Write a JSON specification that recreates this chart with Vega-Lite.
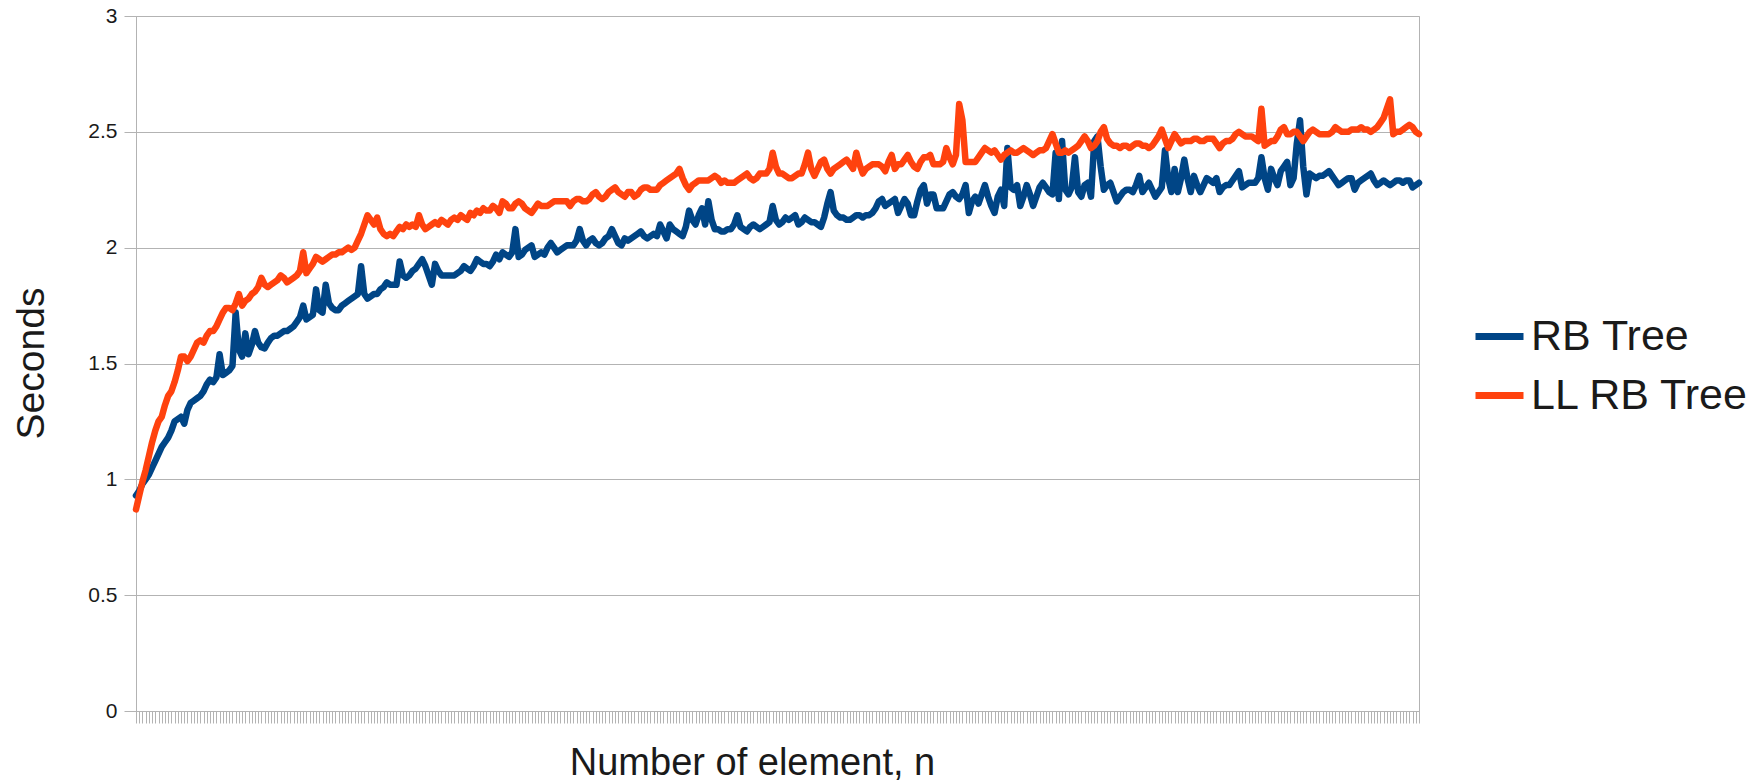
{
"$schema":"https://vega.github.io/schema/vega-lite/v6.json",
"width":1283,"height":695,
"autosize":{"type":"none"},
"padding":{"left":136,"top":16,"right":342,"bottom":72},
"background":"white",
"config":{"font":"Liberation Sans","view":{"stroke":"#b3b3b3","strokeWidth":1}},
"data":{"values":[
{"n":0,"RB Tree":0.93,"LL RB Tree":0.87},{"n":1,"RB Tree":0.95,"LL RB Tree":0.93},{"n":2,"RB Tree":0.98,"LL RB Tree":0.99},{"n":3,"RB Tree":1.00,"LL RB Tree":1.04},{"n":4,"RB Tree":1.02,"LL RB Tree":1.10},{"n":5,"RB Tree":1.05,"LL RB Tree":1.16},{"n":6,"RB Tree":1.08,"LL RB Tree":1.21},{"n":7,"RB Tree":1.11,"LL RB Tree":1.25},{"n":8,"RB Tree":1.14,"LL RB Tree":1.27},{"n":9,"RB Tree":1.16,"LL RB Tree":1.32},
{"n":10,"RB Tree":1.18,"LL RB Tree":1.36},{"n":11,"RB Tree":1.21,"LL RB Tree":1.38},{"n":12,"RB Tree":1.25,"LL RB Tree":1.42},{"n":13,"RB Tree":1.26,"LL RB Tree":1.47},{"n":14,"RB Tree":1.27,"LL RB Tree":1.53},{"n":15,"RB Tree":1.24,"LL RB Tree":1.53},{"n":16,"RB Tree":1.30,"LL RB Tree":1.51},{"n":17,"RB Tree":1.33,"LL RB Tree":1.53},{"n":18,"RB Tree":1.34,"LL RB Tree":1.56},{"n":19,"RB Tree":1.35,"LL RB Tree":1.59},
{"n":20,"RB Tree":1.36,"LL RB Tree":1.60},{"n":21,"RB Tree":1.38,"LL RB Tree":1.59},{"n":22,"RB Tree":1.41,"LL RB Tree":1.62},{"n":23,"RB Tree":1.43,"LL RB Tree":1.64},{"n":24,"RB Tree":1.42,"LL RB Tree":1.64},{"n":25,"RB Tree":1.44,"LL RB Tree":1.66},{"n":26,"RB Tree":1.54,"LL RB Tree":1.69},{"n":27,"RB Tree":1.45,"LL RB Tree":1.72},{"n":28,"RB Tree":1.46,"LL RB Tree":1.74},{"n":29,"RB Tree":1.47,"LL RB Tree":1.74},
{"n":30,"RB Tree":1.49,"LL RB Tree":1.73},{"n":31,"RB Tree":1.72,"LL RB Tree":1.76},{"n":32,"RB Tree":1.56,"LL RB Tree":1.80},{"n":33,"RB Tree":1.53,"LL RB Tree":1.75},{"n":34,"RB Tree":1.63,"LL RB Tree":1.77},{"n":35,"RB Tree":1.54,"LL RB Tree":1.78},{"n":36,"RB Tree":1.58,"LL RB Tree":1.80},{"n":37,"RB Tree":1.64,"LL RB Tree":1.81},{"n":38,"RB Tree":1.59,"LL RB Tree":1.83},{"n":39,"RB Tree":1.57,"LL RB Tree":1.87},
{"n":40,"RB Tree":1.565,"LL RB Tree":1.84},{"n":41,"RB Tree":1.59,"LL RB Tree":1.83},{"n":42,"RB Tree":1.61,"LL RB Tree":1.84},{"n":43,"RB Tree":1.62,"LL RB Tree":1.85},{"n":44,"RB Tree":1.62,"LL RB Tree":1.86},{"n":45,"RB Tree":1.63,"LL RB Tree":1.88},{"n":46,"RB Tree":1.64,"LL RB Tree":1.87},{"n":47,"RB Tree":1.64,"LL RB Tree":1.85},{"n":48,"RB Tree":1.65,"LL RB Tree":1.86},{"n":49,"RB Tree":1.66,"LL RB Tree":1.87},
{"n":50,"RB Tree":1.68,"LL RB Tree":1.88},{"n":51,"RB Tree":1.70,"LL RB Tree":1.90},{"n":52,"RB Tree":1.75,"LL RB Tree":1.98},{"n":53,"RB Tree":1.69,"LL RB Tree":1.89},{"n":54,"RB Tree":1.70,"LL RB Tree":1.91},{"n":55,"RB Tree":1.71,"LL RB Tree":1.93},{"n":56,"RB Tree":1.82,"LL RB Tree":1.96},{"n":57,"RB Tree":1.73,"LL RB Tree":1.95},{"n":58,"RB Tree":1.72,"LL RB Tree":1.94},{"n":59,"RB Tree":1.84,"LL RB Tree":1.95},
{"n":60,"RB Tree":1.76,"LL RB Tree":1.96},{"n":61,"RB Tree":1.74,"LL RB Tree":1.97},{"n":62,"RB Tree":1.73,"LL RB Tree":1.97},{"n":63,"RB Tree":1.73,"LL RB Tree":1.98},{"n":64,"RB Tree":1.75,"LL RB Tree":1.98},{"n":65,"RB Tree":1.76,"LL RB Tree":1.99},{"n":66,"RB Tree":1.77,"LL RB Tree":2.00},{"n":67,"RB Tree":1.78,"LL RB Tree":1.99},{"n":68,"RB Tree":1.79,"LL RB Tree":2.00},{"n":69,"RB Tree":1.80,"LL RB Tree":2.03},
{"n":70,"RB Tree":1.92,"LL RB Tree":2.06},{"n":71,"RB Tree":1.80,"LL RB Tree":2.10},{"n":72,"RB Tree":1.78,"LL RB Tree":2.14},{"n":73,"RB Tree":1.79,"LL RB Tree":2.12},{"n":74,"RB Tree":1.80,"LL RB Tree":2.10},{"n":75,"RB Tree":1.80,"LL RB Tree":2.13},{"n":76,"RB Tree":1.82,"LL RB Tree":2.08},{"n":77,"RB Tree":1.83,"LL RB Tree":2.06},{"n":78,"RB Tree":1.85,"LL RB Tree":2.05},{"n":79,"RB Tree":1.84,"LL RB Tree":2.06},
{"n":80,"RB Tree":1.84,"LL RB Tree":2.05},{"n":81,"RB Tree":1.84,"LL RB Tree":2.07},{"n":82,"RB Tree":1.94,"LL RB Tree":2.09},{"n":83,"RB Tree":1.88,"LL RB Tree":2.08},{"n":84,"RB Tree":1.87,"LL RB Tree":2.10},{"n":85,"RB Tree":1.88,"LL RB Tree":2.09},{"n":86,"RB Tree":1.90,"LL RB Tree":2.10},{"n":87,"RB Tree":1.91,"LL RB Tree":2.09},{"n":88,"RB Tree":1.93,"LL RB Tree":2.14},{"n":89,"RB Tree":1.95,"LL RB Tree":2.10},
{"n":90,"RB Tree":1.92,"LL RB Tree":2.08},{"n":91,"RB Tree":1.88,"LL RB Tree":2.09},{"n":92,"RB Tree":1.84,"LL RB Tree":2.10},{"n":93,"RB Tree":1.93,"LL RB Tree":2.11},{"n":94,"RB Tree":1.90,"LL RB Tree":2.10},{"n":95,"RB Tree":1.88,"LL RB Tree":2.12},{"n":96,"RB Tree":1.88,"LL RB Tree":2.11},{"n":97,"RB Tree":1.88,"LL RB Tree":2.10},{"n":98,"RB Tree":1.88,"LL RB Tree":2.12},{"n":99,"RB Tree":1.88,"LL RB Tree":2.13},
{"n":100,"RB Tree":1.89,"LL RB Tree":2.12},{"n":101,"RB Tree":1.90,"LL RB Tree":2.14},{"n":102,"RB Tree":1.92,"LL RB Tree":2.13},{"n":103,"RB Tree":1.91,"LL RB Tree":2.12},{"n":104,"RB Tree":1.90,"LL RB Tree":2.15},{"n":105,"RB Tree":1.92,"LL RB Tree":2.14},{"n":106,"RB Tree":1.95,"LL RB Tree":2.16},{"n":107,"RB Tree":1.94,"LL RB Tree":2.15},{"n":108,"RB Tree":1.93,"LL RB Tree":2.17},{"n":109,"RB Tree":1.93,"LL RB Tree":2.16},
{"n":110,"RB Tree":1.92,"LL RB Tree":2.16},{"n":111,"RB Tree":1.94,"LL RB Tree":2.18},{"n":112,"RB Tree":1.97,"LL RB Tree":2.17},{"n":113,"RB Tree":1.95,"LL RB Tree":2.15},{"n":114,"RB Tree":1.98,"LL RB Tree":2.20},{"n":115,"RB Tree":1.97,"LL RB Tree":2.19},{"n":116,"RB Tree":1.96,"LL RB Tree":2.17},{"n":117,"RB Tree":1.98,"LL RB Tree":2.17},{"n":118,"RB Tree":2.08,"LL RB Tree":2.19},{"n":119,"RB Tree":1.96,"LL RB Tree":2.20},
{"n":120,"RB Tree":1.97,"LL RB Tree":2.19},{"n":121,"RB Tree":1.99,"LL RB Tree":2.17},{"n":122,"RB Tree":2.00,"LL RB Tree":2.16},{"n":123,"RB Tree":2.01,"LL RB Tree":2.15},{"n":124,"RB Tree":1.96,"LL RB Tree":2.17},{"n":125,"RB Tree":1.97,"LL RB Tree":2.19},{"n":126,"RB Tree":1.98,"LL RB Tree":2.18},{"n":127,"RB Tree":1.97,"LL RB Tree":2.18},{"n":128,"RB Tree":2.00,"LL RB Tree":2.18},{"n":129,"RB Tree":2.02,"LL RB Tree":2.19},
{"n":130,"RB Tree":2.00,"LL RB Tree":2.20},{"n":131,"RB Tree":1.98,"LL RB Tree":2.20},{"n":132,"RB Tree":1.99,"LL RB Tree":2.20},{"n":133,"RB Tree":2.00,"LL RB Tree":2.20},{"n":134,"RB Tree":2.01,"LL RB Tree":2.20},{"n":135,"RB Tree":2.01,"LL RB Tree":2.18},{"n":136,"RB Tree":2.01,"LL RB Tree":2.20},{"n":137,"RB Tree":2.03,"LL RB Tree":2.21},{"n":138,"RB Tree":2.08,"LL RB Tree":2.21},{"n":139,"RB Tree":2.03,"LL RB Tree":2.20},
{"n":140,"RB Tree":2.01,"LL RB Tree":2.20},{"n":141,"RB Tree":2.03,"LL RB Tree":2.21},{"n":142,"RB Tree":2.04,"LL RB Tree":2.23},{"n":143,"RB Tree":2.02,"LL RB Tree":2.24},{"n":144,"RB Tree":2.01,"LL RB Tree":2.22},{"n":145,"RB Tree":2.02,"LL RB Tree":2.21},{"n":146,"RB Tree":2.04,"LL RB Tree":2.22},{"n":147,"RB Tree":2.05,"LL RB Tree":2.24},{"n":148,"RB Tree":2.08,"LL RB Tree":2.25},{"n":149,"RB Tree":2.05,"LL RB Tree":2.26},
{"n":150,"RB Tree":2.02,"LL RB Tree":2.24},{"n":151,"RB Tree":2.01,"LL RB Tree":2.23},{"n":152,"RB Tree":2.04,"LL RB Tree":2.22},{"n":153,"RB Tree":2.03,"LL RB Tree":2.24},{"n":154,"RB Tree":2.04,"LL RB Tree":2.24},{"n":155,"RB Tree":2.05,"LL RB Tree":2.22},{"n":156,"RB Tree":2.06,"LL RB Tree":2.23},{"n":157,"RB Tree":2.07,"LL RB Tree":2.25},{"n":158,"RB Tree":2.05,"LL RB Tree":2.26},{"n":159,"RB Tree":2.04,"LL RB Tree":2.26},
{"n":160,"RB Tree":2.05,"LL RB Tree":2.25},{"n":161,"RB Tree":2.06,"LL RB Tree":2.25},{"n":162,"RB Tree":2.05,"LL RB Tree":2.25},{"n":163,"RB Tree":2.10,"LL RB Tree":2.27},{"n":164,"RB Tree":2.07,"LL RB Tree":2.28},{"n":165,"RB Tree":2.04,"LL RB Tree":2.29},{"n":166,"RB Tree":2.10,"LL RB Tree":2.30},{"n":167,"RB Tree":2.08,"LL RB Tree":2.31},{"n":168,"RB Tree":2.07,"LL RB Tree":2.32},{"n":169,"RB Tree":2.06,"LL RB Tree":2.34},
{"n":170,"RB Tree":2.05,"LL RB Tree":2.30},{"n":171,"RB Tree":2.09,"LL RB Tree":2.27},{"n":172,"RB Tree":2.16,"LL RB Tree":2.25},{"n":173,"RB Tree":2.12,"LL RB Tree":2.27},{"n":174,"RB Tree":2.10,"LL RB Tree":2.28},{"n":175,"RB Tree":2.14,"LL RB Tree":2.29},{"n":176,"RB Tree":2.17,"LL RB Tree":2.29},{"n":177,"RB Tree":2.10,"LL RB Tree":2.29},{"n":178,"RB Tree":2.20,"LL RB Tree":2.29},{"n":179,"RB Tree":2.12,"LL RB Tree":2.30},
{"n":180,"RB Tree":2.08,"LL RB Tree":2.31},{"n":181,"RB Tree":2.08,"LL RB Tree":2.30},{"n":182,"RB Tree":2.07,"LL RB Tree":2.28},{"n":183,"RB Tree":2.07,"LL RB Tree":2.29},{"n":184,"RB Tree":2.08,"LL RB Tree":2.28},{"n":185,"RB Tree":2.08,"LL RB Tree":2.28},{"n":186,"RB Tree":2.10,"LL RB Tree":2.28},{"n":187,"RB Tree":2.14,"LL RB Tree":2.29},{"n":188,"RB Tree":2.09,"LL RB Tree":2.30},{"n":189,"RB Tree":2.08,"LL RB Tree":2.31},
{"n":190,"RB Tree":2.07,"LL RB Tree":2.32},{"n":191,"RB Tree":2.09,"LL RB Tree":2.30},{"n":192,"RB Tree":2.10,"LL RB Tree":2.29},{"n":193,"RB Tree":2.09,"LL RB Tree":2.30},{"n":194,"RB Tree":2.08,"LL RB Tree":2.32},{"n":195,"RB Tree":2.09,"LL RB Tree":2.32},{"n":196,"RB Tree":2.10,"LL RB Tree":2.32},{"n":197,"RB Tree":2.11,"LL RB Tree":2.34},{"n":198,"RB Tree":2.18,"LL RB Tree":2.41},{"n":199,"RB Tree":2.12,"LL RB Tree":2.35},
{"n":200,"RB Tree":2.10,"LL RB Tree":2.32},{"n":201,"RB Tree":2.11,"LL RB Tree":2.32},{"n":202,"RB Tree":2.13,"LL RB Tree":2.31},{"n":203,"RB Tree":2.12,"LL RB Tree":2.30},{"n":204,"RB Tree":2.13,"LL RB Tree":2.30},{"n":205,"RB Tree":2.14,"LL RB Tree":2.31},{"n":206,"RB Tree":2.10,"LL RB Tree":2.32},{"n":207,"RB Tree":2.11,"LL RB Tree":2.32},{"n":208,"RB Tree":2.13,"LL RB Tree":2.36},{"n":209,"RB Tree":2.12,"LL RB Tree":2.41},
{"n":210,"RB Tree":2.11,"LL RB Tree":2.34},{"n":211,"RB Tree":2.11,"LL RB Tree":2.31},{"n":212,"RB Tree":2.10,"LL RB Tree":2.34},{"n":213,"RB Tree":2.09,"LL RB Tree":2.37},{"n":214,"RB Tree":2.13,"LL RB Tree":2.38},{"n":215,"RB Tree":2.19,"LL RB Tree":2.34},{"n":216,"RB Tree":2.24,"LL RB Tree":2.32},{"n":217,"RB Tree":2.16,"LL RB Tree":2.34},{"n":218,"RB Tree":2.14,"LL RB Tree":2.35},{"n":219,"RB Tree":2.13,"LL RB Tree":2.36},
{"n":220,"RB Tree":2.13,"LL RB Tree":2.37},{"n":221,"RB Tree":2.12,"LL RB Tree":2.38},{"n":222,"RB Tree":2.12,"LL RB Tree":2.36},{"n":223,"RB Tree":2.13,"LL RB Tree":2.34},{"n":224,"RB Tree":2.14,"LL RB Tree":2.41},{"n":225,"RB Tree":2.14,"LL RB Tree":2.36},{"n":226,"RB Tree":2.13,"LL RB Tree":2.32},{"n":227,"RB Tree":2.14,"LL RB Tree":2.34},{"n":228,"RB Tree":2.14,"LL RB Tree":2.35},{"n":229,"RB Tree":2.15,"LL RB Tree":2.36},
{"n":230,"RB Tree":2.17,"LL RB Tree":2.36},{"n":231,"RB Tree":2.20,"LL RB Tree":2.36},{"n":232,"RB Tree":2.21,"LL RB Tree":2.35},{"n":233,"RB Tree":2.18,"LL RB Tree":2.33},{"n":234,"RB Tree":2.19,"LL RB Tree":2.37},{"n":235,"RB Tree":2.20,"LL RB Tree":2.40},{"n":236,"RB Tree":2.21,"LL RB Tree":2.34},{"n":237,"RB Tree":2.15,"LL RB Tree":2.36},{"n":238,"RB Tree":2.18,"LL RB Tree":2.36},{"n":239,"RB Tree":2.21,"LL RB Tree":2.38},
{"n":240,"RB Tree":2.19,"LL RB Tree":2.40},{"n":241,"RB Tree":2.14,"LL RB Tree":2.37},{"n":242,"RB Tree":2.14,"LL RB Tree":2.35},{"n":243,"RB Tree":2.20,"LL RB Tree":2.34},{"n":244,"RB Tree":2.25,"LL RB Tree":2.37},{"n":245,"RB Tree":2.27,"LL RB Tree":2.39},{"n":246,"RB Tree":2.19,"LL RB Tree":2.39},{"n":247,"RB Tree":2.23,"LL RB Tree":2.40},{"n":248,"RB Tree":2.23,"LL RB Tree":2.36},{"n":249,"RB Tree":2.17,"LL RB Tree":2.36},
{"n":250,"RB Tree":2.17,"LL RB Tree":2.36},{"n":251,"RB Tree":2.17,"LL RB Tree":2.37},{"n":252,"RB Tree":2.20,"LL RB Tree":2.43},{"n":253,"RB Tree":2.23,"LL RB Tree":2.39},{"n":254,"RB Tree":2.24,"LL RB Tree":2.36},{"n":255,"RB Tree":2.22,"LL RB Tree":2.40},{"n":256,"RB Tree":2.21,"LL RB Tree":2.62},{"n":257,"RB Tree":2.23,"LL RB Tree":2.55},{"n":258,"RB Tree":2.27,"LL RB Tree":2.37},{"n":259,"RB Tree":2.15,"LL RB Tree":2.37},
{"n":260,"RB Tree":2.20,"LL RB Tree":2.37},{"n":261,"RB Tree":2.22,"LL RB Tree":2.37},{"n":262,"RB Tree":2.19,"LL RB Tree":2.39},{"n":263,"RB Tree":2.23,"LL RB Tree":2.41},{"n":264,"RB Tree":2.27,"LL RB Tree":2.43},{"n":265,"RB Tree":2.22,"LL RB Tree":2.42},{"n":266,"RB Tree":2.18,"LL RB Tree":2.41},{"n":267,"RB Tree":2.15,"LL RB Tree":2.42},{"n":268,"RB Tree":2.22,"LL RB Tree":2.40},{"n":269,"RB Tree":2.25,"LL RB Tree":2.38},
{"n":270,"RB Tree":2.18,"LL RB Tree":2.40},{"n":271,"RB Tree":2.43,"LL RB Tree":2.41},{"n":272,"RB Tree":2.26,"LL RB Tree":2.42},{"n":273,"RB Tree":2.25,"LL RB Tree":2.41},{"n":274,"RB Tree":2.27,"LL RB Tree":2.41},{"n":275,"RB Tree":2.18,"LL RB Tree":2.42},{"n":276,"RB Tree":2.22,"LL RB Tree":2.43},{"n":277,"RB Tree":2.27,"LL RB Tree":2.42},{"n":278,"RB Tree":2.23,"LL RB Tree":2.41},{"n":279,"RB Tree":2.18,"LL RB Tree":2.40},
{"n":280,"RB Tree":2.22,"LL RB Tree":2.41},{"n":281,"RB Tree":2.26,"LL RB Tree":2.42},{"n":282,"RB Tree":2.28,"LL RB Tree":2.42},{"n":283,"RB Tree":2.26,"LL RB Tree":2.43},{"n":284,"RB Tree":2.24,"LL RB Tree":2.46},{"n":285,"RB Tree":2.23,"LL RB Tree":2.49},{"n":286,"RB Tree":2.41,"LL RB Tree":2.45},{"n":287,"RB Tree":2.21,"LL RB Tree":2.41},{"n":288,"RB Tree":2.46,"LL RB Tree":2.41},{"n":289,"RB Tree":2.25,"LL RB Tree":2.42},
{"n":290,"RB Tree":2.23,"LL RB Tree":2.41},{"n":291,"RB Tree":2.26,"LL RB Tree":2.42},{"n":292,"RB Tree":2.39,"LL RB Tree":2.43},{"n":293,"RB Tree":2.24,"LL RB Tree":2.44},{"n":294,"RB Tree":2.22,"LL RB Tree":2.46},{"n":295,"RB Tree":2.27,"LL RB Tree":2.48},{"n":296,"RB Tree":2.28,"LL RB Tree":2.46},{"n":297,"RB Tree":2.22,"LL RB Tree":2.43},{"n":298,"RB Tree":2.46,"LL RB Tree":2.44},{"n":299,"RB Tree":2.48,"LL RB Tree":2.46},
{"n":300,"RB Tree":2.35,"LL RB Tree":2.50},{"n":301,"RB Tree":2.25,"LL RB Tree":2.52},{"n":302,"RB Tree":2.27,"LL RB Tree":2.47},{"n":303,"RB Tree":2.28,"LL RB Tree":2.45},{"n":304,"RB Tree":2.24,"LL RB Tree":2.44},{"n":305,"RB Tree":2.20,"LL RB Tree":2.44},{"n":306,"RB Tree":2.22,"LL RB Tree":2.43},{"n":307,"RB Tree":2.24,"LL RB Tree":2.44},{"n":308,"RB Tree":2.25,"LL RB Tree":2.44},{"n":309,"RB Tree":2.25,"LL RB Tree":2.43},
{"n":310,"RB Tree":2.24,"LL RB Tree":2.44},{"n":311,"RB Tree":2.27,"LL RB Tree":2.45},{"n":312,"RB Tree":2.31,"LL RB Tree":2.45},{"n":313,"RB Tree":2.24,"LL RB Tree":2.44},{"n":314,"RB Tree":2.26,"LL RB Tree":2.44},{"n":315,"RB Tree":2.28,"LL RB Tree":2.43},{"n":316,"RB Tree":2.25,"LL RB Tree":2.44},{"n":317,"RB Tree":2.22,"LL RB Tree":2.46},{"n":318,"RB Tree":2.24,"LL RB Tree":2.48},{"n":319,"RB Tree":2.26,"LL RB Tree":2.51},
{"n":320,"RB Tree":2.42,"LL RB Tree":2.47},{"n":321,"RB Tree":2.30,"LL RB Tree":2.43},{"n":322,"RB Tree":2.24,"LL RB Tree":2.46},{"n":323,"RB Tree":2.34,"LL RB Tree":2.49},{"n":324,"RB Tree":2.24,"LL RB Tree":2.47},{"n":325,"RB Tree":2.30,"LL RB Tree":2.45},{"n":326,"RB Tree":2.38,"LL RB Tree":2.46},{"n":327,"RB Tree":2.30,"LL RB Tree":2.46},{"n":328,"RB Tree":2.24,"LL RB Tree":2.46},{"n":329,"RB Tree":2.31,"LL RB Tree":2.47},
{"n":330,"RB Tree":2.27,"LL RB Tree":2.47},{"n":331,"RB Tree":2.24,"LL RB Tree":2.46},{"n":332,"RB Tree":2.27,"LL RB Tree":2.46},{"n":333,"RB Tree":2.30,"LL RB Tree":2.47},{"n":334,"RB Tree":2.29,"LL RB Tree":2.47},{"n":335,"RB Tree":2.28,"LL RB Tree":2.47},{"n":336,"RB Tree":2.30,"LL RB Tree":2.45},{"n":337,"RB Tree":2.24,"LL RB Tree":2.43},{"n":338,"RB Tree":2.26,"LL RB Tree":2.45},{"n":339,"RB Tree":2.27,"LL RB Tree":2.46},
{"n":340,"RB Tree":2.27,"LL RB Tree":2.46},{"n":341,"RB Tree":2.29,"LL RB Tree":2.47},{"n":342,"RB Tree":2.31,"LL RB Tree":2.49},{"n":343,"RB Tree":2.33,"LL RB Tree":2.50},{"n":344,"RB Tree":2.26,"LL RB Tree":2.49},{"n":345,"RB Tree":2.27,"LL RB Tree":2.48},{"n":346,"RB Tree":2.28,"LL RB Tree":2.48},{"n":347,"RB Tree":2.28,"LL RB Tree":2.48},{"n":348,"RB Tree":2.28,"LL RB Tree":2.47},{"n":349,"RB Tree":2.30,"LL RB Tree":2.46},
{"n":350,"RB Tree":2.39,"LL RB Tree":2.60},{"n":351,"RB Tree":2.30,"LL RB Tree":2.44},{"n":352,"RB Tree":2.25,"LL RB Tree":2.45},{"n":353,"RB Tree":2.34,"LL RB Tree":2.46},{"n":354,"RB Tree":2.30,"LL RB Tree":2.46},{"n":355,"RB Tree":2.27,"LL RB Tree":2.48},{"n":356,"RB Tree":2.33,"LL RB Tree":2.51},{"n":357,"RB Tree":2.35,"LL RB Tree":2.52},{"n":358,"RB Tree":2.37,"LL RB Tree":2.49},{"n":359,"RB Tree":2.27,"LL RB Tree":2.49},
{"n":360,"RB Tree":2.30,"LL RB Tree":2.50},{"n":361,"RB Tree":2.45,"LL RB Tree":2.50},{"n":362,"RB Tree":2.55,"LL RB Tree":2.48},{"n":363,"RB Tree":2.35,"LL RB Tree":2.46},{"n":364,"RB Tree":2.23,"LL RB Tree":2.48},{"n":365,"RB Tree":2.32,"LL RB Tree":2.50},{"n":366,"RB Tree":2.31,"LL RB Tree":2.51},{"n":367,"RB Tree":2.30,"LL RB Tree":2.50},{"n":368,"RB Tree":2.31,"LL RB Tree":2.49},{"n":369,"RB Tree":2.31,"LL RB Tree":2.49},
{"n":370,"RB Tree":2.32,"LL RB Tree":2.49},{"n":371,"RB Tree":2.33,"LL RB Tree":2.49},{"n":372,"RB Tree":2.31,"LL RB Tree":2.50},{"n":373,"RB Tree":2.29,"LL RB Tree":2.52},{"n":374,"RB Tree":2.27,"LL RB Tree":2.51},{"n":375,"RB Tree":2.28,"LL RB Tree":2.50},{"n":376,"RB Tree":2.29,"LL RB Tree":2.50},{"n":377,"RB Tree":2.30,"LL RB Tree":2.50},{"n":378,"RB Tree":2.30,"LL RB Tree":2.51},{"n":379,"RB Tree":2.25,"LL RB Tree":2.51},
{"n":380,"RB Tree":2.28,"LL RB Tree":2.51},{"n":381,"RB Tree":2.29,"LL RB Tree":2.52},{"n":382,"RB Tree":2.30,"LL RB Tree":2.51},{"n":383,"RB Tree":2.31,"LL RB Tree":2.51},{"n":384,"RB Tree":2.32,"LL RB Tree":2.50},{"n":385,"RB Tree":2.29,"LL RB Tree":2.51},{"n":386,"RB Tree":2.27,"LL RB Tree":2.52},{"n":387,"RB Tree":2.28,"LL RB Tree":2.54},{"n":388,"RB Tree":2.29,"LL RB Tree":2.56},{"n":389,"RB Tree":2.28,"LL RB Tree":2.60},
{"n":390,"RB Tree":2.27,"LL RB Tree":2.64},{"n":391,"RB Tree":2.28,"LL RB Tree":2.49},{"n":392,"RB Tree":2.29,"LL RB Tree":2.50},{"n":393,"RB Tree":2.29,"LL RB Tree":2.50},{"n":394,"RB Tree":2.28,"LL RB Tree":2.51},{"n":395,"RB Tree":2.29,"LL RB Tree":2.52},{"n":396,"RB Tree":2.29,"LL RB Tree":2.53},{"n":397,"RB Tree":2.26,"LL RB Tree":2.52},{"n":398,"RB Tree":2.27,"LL RB Tree":2.50},{"n":399,"RB Tree":2.28,"LL RB Tree":2.49}
]},
"transform":[{"fold":["RB Tree","LL RB Tree"],"as":["series","seconds"]}],
"mark":{"type":"line","strokeWidth":6.5,"strokeJoin":"round","strokeCap":"round"},
"encoding":{
"x":{"field":"n","type":"ordinal","scale":{"type":"point","padding":0},"axis":{"labels":false,"ticks":true,"tickSize":12,"tickColor":"#b3b3b3","domainColor":"#b3b3b3","grid":false,"title":"Number of element, n","titleFontSize":38,"titleFontWeight":"normal","titleColor":"#1a1a1a","titleX":616,"titleY":63,"titleBaseline":"alphabetic","titleAlign":"center"}},
"y":{"field":"seconds","type":"quantitative","scale":{"domain":[0,3],"nice":false},"axis":{"values":[0,0.5,1,1.5,2,2.5,3],"format":"~g","grid":true,"gridColor":"#b3b3b3","tickColor":"#b3b3b3","tickSize":12,"domainColor":"#b3b3b3","labelFontSize":21,"labelColor":"#1a1a1a","labelPadding":7,"title":"Seconds","titleFontSize":39,"titleFontWeight":"normal","titleColor":"#1a1a1a","titleAngle":270,"titleX":-93,"titleY":347,"titleAlign":"center","titleBaseline":"alphabetic"}},
"color":{"field":"series","type":"nominal","scale":{"domain":["RB Tree","LL RB Tree"],"range":["#004586","#ff420e"]},"legend":{"title":null,"orient":"none","legendX":1336,"legendY":293,"symbolType":"stroke","symbolSize":2304,"symbolStrokeWidth":7,"labelFontSize":43,"labelLimit":0,"labelColor":"#1a1a1a","labelOffset":4,"rowPadding":9,"padding":0}}
}
}
